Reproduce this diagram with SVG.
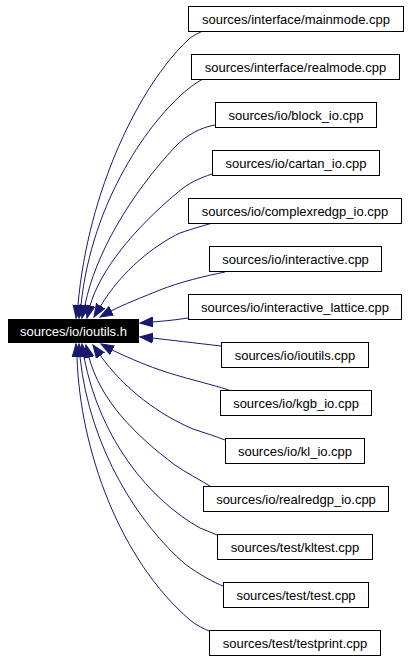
<svg xmlns="http://www.w3.org/2000/svg" width="408" height="659" viewBox="0 0 408 659">
<style>
.n rect{fill:#fff;stroke:#000;stroke-width:1}
.n text{font-family:"Liberation Sans",Arial,sans-serif;font-size:13px;text-anchor:middle;fill:#000}
#main rect{fill:#000}
#main text{fill:#fff}
.e path{fill:none;stroke:#191970;stroke-width:1;marker-end:url(#ah)}
</style>
<defs>
<marker id="ah" markerUnits="userSpaceOnUse" markerWidth="14" markerHeight="12" viewBox="0 -5 13 10" refX="12" refY="0" orient="auto">
<path d="M0,-4.5 L12,0 L0,4.5 z" fill="#191970" stroke="#191970" stroke-width="1"/>
</marker>
</defs>
<g class="e" id="edges">
<path d="M203,31 C196,34 191,37 188,40 C140,85 88,190 78,305 L76,318"/>
<path d="M203,79 C197,82 192,86 188,89 C150,120 92,200 81,305 L79,318"/>
<path d="M215,125 C202,127 186,135 175,147 C130,195 95,255 85,305 L82,318"/>
<path d="M212,174 C200,178 188,183 177,193 C135,228 100,270 90,306 L87,318"/>
<path d="M213,223 C205,225 192,229 180,233 C155,245 122,270 100,307 L94,317"/>
<path d="M225,272 C205,276 180,282 160,290 C140,298 125,304 111,311 L100,317"/>
<path d="M188,318 C175,320 165,321 152,322 L140,323"/>
<path d="M221,346 C195,343 170,340 152,338 L140,337"/>
<path d="M229,390 C210,384 180,377 160,370 C140,363 125,356 112,350 L101,344"/>
<path d="M225,440 C215,436 205,433 193,429 C160,415 125,390 100,355 L93,345"/>
<path d="M210,486 C200,480 185,472 175,465 C135,435 100,400 89,357 L86,345"/>
<path d="M217,535 C210,532 205,530 200,528 C150,500 100,440 84,357 L82,344"/>
<path d="M223,586 C215,583 200,575 185,564 C140,525 90,450 80,357 L79,344"/>
<path d="M209,631 C200,627 195,624 190,620 C120,560 80,450 77,357 L76,344"/>
</g>
<g class="n" id="main"><rect x="8.5" y="319.5" width="130" height="23"/><text x="73.5" y="336">sources/io/ioutils.h</text></g>
<g class="n" id="n1"><rect x="188.5" y="6.5" width="215" height="25"/><text x="296" y="24">sources/interface/mainmode.cpp</text></g>
<g class="n" id="n2"><rect x="191.5" y="54.5" width="208" height="25"/><text x="295.5" y="72">sources/interface/realmode.cpp</text></g>
<g class="n" id="n3"><rect x="215.5" y="102.5" width="161" height="25"/><text x="296" y="120">sources/io/block_io.cpp</text></g>
<g class="n" id="n4"><rect x="212.5" y="150.5" width="167" height="25"/><text x="296" y="168">sources/io/cartan_io.cpp</text></g>
<g class="n" id="n5"><rect x="188.5" y="198.5" width="213" height="25"/><text x="295" y="216">sources/io/complexredgp_io.cpp</text></g>
<g class="n" id="n6"><rect x="209.5" y="246.5" width="172" height="25"/><text x="295.5" y="264">sources/io/interactive.cpp</text></g>
<g class="n" id="n7"><rect x="188.5" y="294.5" width="213" height="25"/><text x="295" y="312">sources/io/interactive_lattice.cpp</text></g>
<g class="n" id="n8"><rect x="221.5" y="342.5" width="147" height="25"/><text x="295" y="360">sources/io/ioutils.cpp</text></g>
<g class="n" id="n9"><rect x="220.5" y="390.5" width="151" height="25"/><text x="296" y="408">sources/io/kgb_io.cpp</text></g>
<g class="n" id="n10"><rect x="225.5" y="438.5" width="139" height="25"/><text x="295" y="456">sources/io/kl_io.cpp</text></g>
<g class="n" id="n11"><rect x="203.5" y="486.5" width="185" height="25"/><text x="296" y="504">sources/io/realredgp_io.cpp</text></g>
<g class="n" id="n12"><rect x="217.5" y="534.5" width="155" height="25"/><text x="295" y="552">sources/test/kltest.cpp</text></g>
<g class="n" id="n13"><rect x="223.5" y="582.5" width="145" height="25"/><text x="296" y="600">sources/test/test.cpp</text></g>
<g class="n" id="n14"><rect x="209.5" y="630.5" width="171" height="25"/><text x="295" y="648">sources/test/testprint.cpp</text></g>
</svg>
